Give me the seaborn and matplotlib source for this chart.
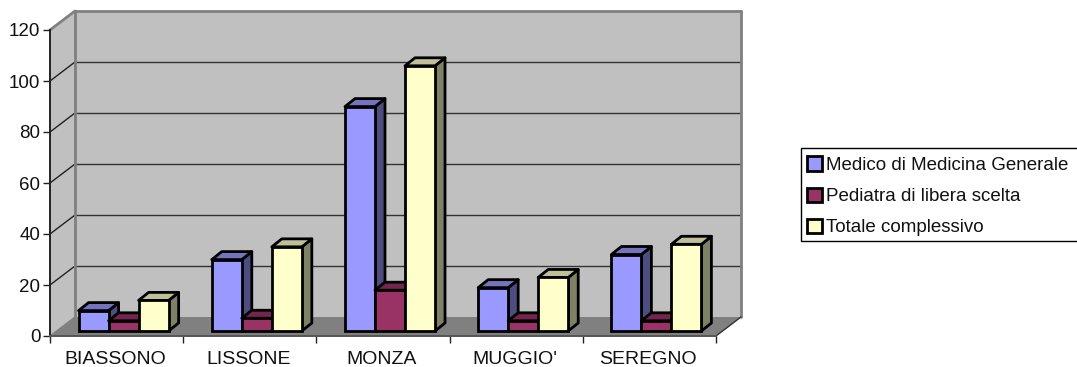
import matplotlib
matplotlib.use("Agg")
import matplotlib.pyplot as plt
from matplotlib.patches import Polygon, Rectangle
from matplotlib.transforms import Affine2D, IdentityTransform
import numpy as np
import pandas as pd
import seaborn as sns

comuni = ["BIASSONO", "LISSONE", "MONZA", "MUGGIO'", "SEREGNO"]
medici = [8, 28, 88, 17, 30]
pediatri = [4, 5, 16, 4, 4]
totale = [12, 33, 104, 21, 34]
serie = ["Medico di Medicina Generale", "Pediatra di libera scelta", "Totale complessivo"]
colori = ["#9999FF", "#993366", "#FFFFCC"]
y_ticks = [0, 20, 40, 60, 80, 100, 120]

df = pd.DataFrame({
    "comune": comuni * 3,
    "serie": np.repeat(serie, len(comuni)),
    "valore": medici + pediatri + totale,
})

W, H = 1077, 367
sns.set_theme(style="white")
plt.rcParams["font.family"] = ["Liberation Sans", "DejaVu Sans"]

fig = plt.figure(figsize=(W / 100, H / 100), dpi=100, facecolor="white")
ax = fig.add_axes([50 / W, (H - 336) / H, 666 / W, 306 / H])
ax.patch.set_visible(False)

sns.barplot(data=df, x="comune", y="valore", hue="serie", palette=colori,
            hue_order=serie, order=comuni, width=0.676, saturation=1,
            edgecolor="black", linewidth=2.0, ax=ax)
ax.set_xlim(-0.5, 4.5)
ax.set_ylim(0, 120)
ax.set_xlabel("")
ax.set_ylabel("")

# Room box: depth of the walls and position of the bars inside it, in pixels
WALL_DX, WALL_DY = 25, 19
BAR_DX, BAR_DY = 7, 5
BAR_DEPTH_X, BAR_DEPTH_Y = 10, 8
to_px = ax.transData.transform


def room(x, y, depth=0.0):
    px = to_px((x, y))
    return px[0] + depth * WALL_DX, px[1] + depth * WALL_DY


def add_poly(points, face, edge="none", lw=0, z=1.0):
    ax.add_patch(Polygon(points, closed=True, facecolor=face, edgecolor=edge,
                         linewidth=lw, transform=IdentityTransform(),
                         clip_on=False, zorder=z, joinstyle="round"))


def add_line(a, b, color, lw, z):
    ax.add_line(plt.Line2D([a[0], b[0]], [a[1], b[1]], color=color, lw=lw,
                           transform=IdentityTransform(), clip_on=False, zorder=z))


x0, x1 = -0.5, 4.5
add_poly([room(x0, 0), room(x0, 120), room(x0, 120, 1), room(x0, 0, 1)], "#C0C0C0", z=0.1)
add_poly([room(x0, 0, 1), room(x0, 120, 1), room(x1, 120, 1), room(x1, 0, 1)], "#C0C0C0", z=0.1)
add_poly([room(x0, 0), room(x0, 0, 1), room(x1, 0, 1), room(x1, 0)], "#808080", z=0.1)

for v in y_ticks[1:-1]:
    add_line(room(x0, v), room(x0, v, 1), "#222222", 1.0, 0.2)
    add_line(room(x0, v, 1), room(x1, v, 1), "#333333", 1.0, 0.2)

add_line(room(x0, 120), room(x0, 120, 1), "#808080", 2.0, 0.3)
add_line(room(x0, 120, 1), room(x1, 120, 1), "#808080", 2.0, 0.3)
add_line(room(x0, 120, 1), room(x0, 0, 1), "#808080", 2.0, 0.3)
add_line(room(x1, 120, 1), room(x1, 0, 1), "#808080", 2.0, 0.3)
add_line(room(x0, 0), room(x0, 0, 1), "#808080", 1.0, 0.3)
add_line(room(x1, 0), room(x1, 0, 1), "#333333", 1.0, 0.3)

# Extrude every bar, painting from left to right so nearer faces overlap
bars = [(bar, c) for cont, c in zip(ax.containers, colori) for bar in cont]
bars.sort(key=lambda item: item[0].get_x())
shift = ax.transData + Affine2D().translate(BAR_DX, BAR_DY)
for i, (bar, c) in enumerate(bars):
    z = 2 + i * 0.01
    left = to_px((bar.get_x(), 0))[0] + BAR_DX
    right = to_px((bar.get_x() + bar.get_width(), 0))[0] + BAR_DX
    bottom = to_px((0, 0))[1] + BAR_DY
    top = to_px((0, bar.get_height()))[1] + BAR_DY
    rgb = np.array(matplotlib.colors.to_rgb(c))
    add_poly([(right, bottom), (right, top),
              (right + BAR_DEPTH_X, top + BAR_DEPTH_Y),
              (right + BAR_DEPTH_X, bottom + BAR_DEPTH_Y)],
             rgb * 0.5, "black", 2.0, z)
    add_poly([(left, top), (left + BAR_DEPTH_X, top + BAR_DEPTH_Y),
              (right + BAR_DEPTH_X, top + BAR_DEPTH_Y), (right, top)],
             rgb * 0.75, "black", 2.0, z + 0.001)
    bar.set_transform(shift)
    bar.set_clip_on(False)
    bar.set_zorder(z + 0.002)

for side in ("top", "right"):
    ax.spines[side].set_visible(False)
ax.spines["left"].set_color("#222222")
ax.spines["left"].set_linewidth(1.4)
ax.spines["bottom"].set_color("#555555")
ax.spines["bottom"].set_linewidth(1.4)
ax.spines["left"].set_zorder(0.5)

ax.set_yticks(y_ticks)
ax.set_xticks(np.arange(len(comuni)) - 0.011)
ax.set_xticklabels(comuni)
ax.set_xticks(np.arange(-0.5, 5), minor=True)
ax.tick_params(axis="y", left=True, length=5, width=1, color="#222222",
               labelsize=13.5, labelcolor="#111111", pad=2)
ax.tick_params(axis="x", which="major", bottom=False, labelsize=14,
               labelcolor="#111111", pad=5)
ax.tick_params(axis="x", which="minor", bottom=True, length=5, width=1, color="#222222")

# Legend entries sit in a plain box that runs on past the right edge of the figure
fig.add_artist(Rectangle((801 / W, (H - 241) / H), 290 / W, 93 / H, facecolor="white",
                         edgecolor="black", linewidth=1.0, transform=fig.transFigure,
                         zorder=-1))
sns.move_legend(ax, "upper left", bbox_to_anchor=(801 / W, (H - 150) / H),
                bbox_transform=fig.transFigure, title=None, frameon=False,
                fontsize=13.5, handlelength=0.8, handleheight=0.8,
                handletextpad=0.2, labelspacing=0.72, borderpad=0.34,
                borderaxespad=0)
leg = ax.get_legend()
leg.set_zorder(5)
for h in leg.legend_handles:
    h.set_edgecolor("black")
    h.set_linewidth(2.0)
for t in leg.get_texts():
    t.set_color("#111111")

fig.savefig("out.png", dpi=100)
